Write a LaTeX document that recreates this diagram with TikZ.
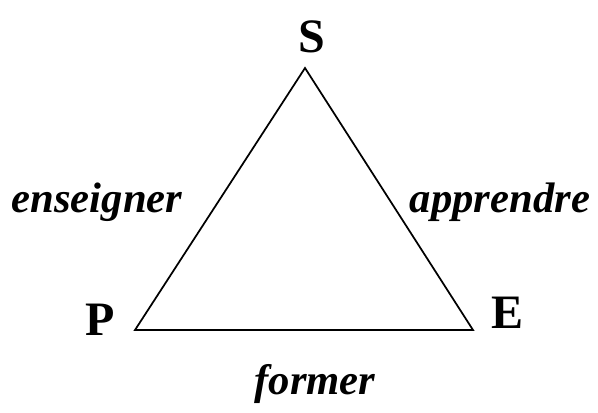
\documentclass[tikz,border=0pt]{standalone}
\usepackage{fontspec}
\setmainfont{Liberation Serif}
\tikzset{
  corner/.style={font=\fontsize{36}{40}\selectfont\bfseries, inner sep=0pt},
  verb/.style={font=\fontsize{32}{36}\selectfont\bfseries\itshape, inner sep=0pt}
}
\begin{document}
\begin{tikzpicture}[x=0.75pt,y=-0.75pt]
  \useasboundingbox (0,0) rectangle (598,412);
  % corners of the triangle
  \coordinate (s) at (305,68);
  \coordinate (p) at (135,330);
  \coordinate (e) at (473,330);
  \draw[line width=1.3pt,line join=miter] (s) -- (p) -- (e) -- cycle;
  \node[corner] (S) at (312,37) {S};
  \node[corner] (P) at (100,320) {P};
  \node[corner] (E) at (507,313) {E};
  \node[verb] (ens) at (97,202) {enseigner};
  \node[verb] (app) at (500,202) {apprendre};
  \node[verb] (for) at (315,384) {former};
\end{tikzpicture}
\end{document}
